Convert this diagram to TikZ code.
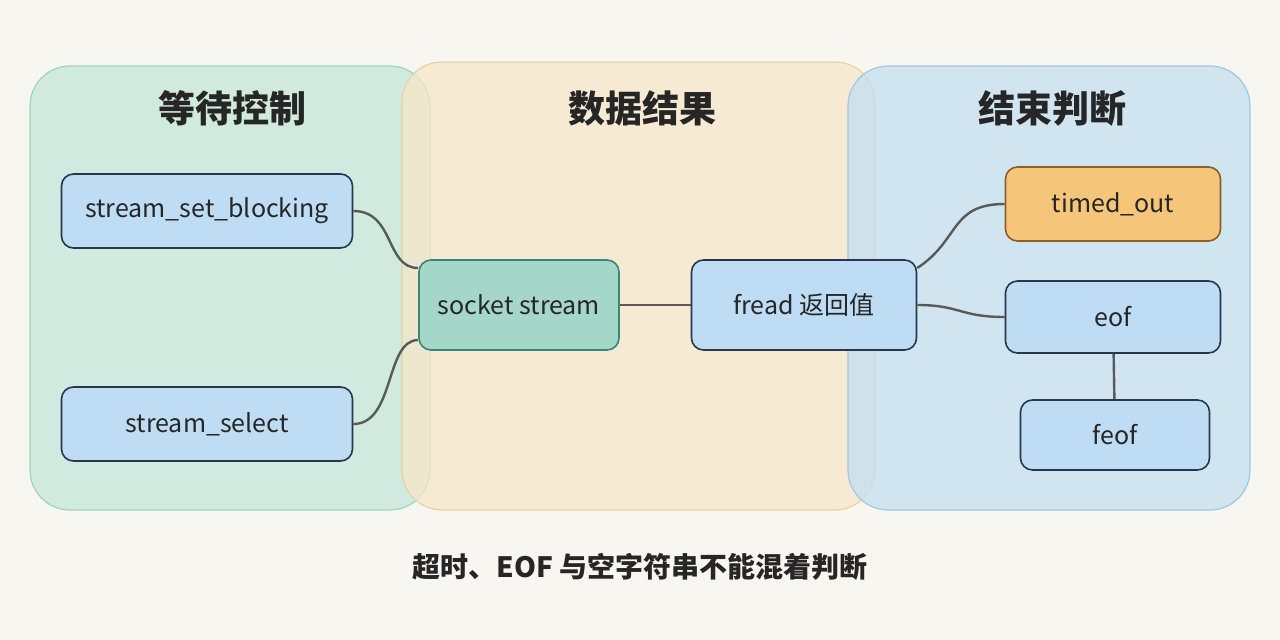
\documentclass[tikz,border=0pt]{standalone}
\usepackage{fontspec}
\setmainfont{Noto Sans CJK SC}
\begin{document}
\begin{tikzpicture}[x=1pt,y=-1pt,
 panel/.style={rounded corners=40pt,line width=1.2pt,fill opacity=0.75},
 box/.style={rounded corners=12pt,line width=1.6pt,font=\fontsize{25}{28}\selectfont,text=black!85},
 title/.style={font=\fontsize{37}{40}\selectfont\bfseries,text=black!85},
 conn/.style={line width=2.4pt,draw=black!65}]
\fill[fill={rgb,255:red,248;green,246;blue,240}] (0,0) rectangle (1280,640);
\definecolor{pA}{RGB}{196,230,218}\definecolor{pAd}{RGB}{160,210,195}
\definecolor{pB}{RGB}{246,230,200}\definecolor{pBd}{RGB}{228,210,170}
\definecolor{pC}{RGB}{196,224,242}\definecolor{pCd}{RGB}{160,200,225}
\definecolor{nb}{RGB}{190,220,243}\definecolor{nd}{RGB}{40,55,75}
\draw[panel,fill=pA,draw=pAd] (30,66) rectangle (430,510);
\draw[panel,fill=pB,draw=pBd] (402,62) rectangle (875,510);
\draw[panel,fill=pC,draw=pCd] (848,66) rectangle (1250,510);
\node[title] (t1) at (232,108) {等待控制};
\node[title] (t2) at (642,108) {数据结果};
\node[title] (t3) at (1052,108) {结束判断};
\tikzset{box/.append style={fill=nb,draw=nd}}
\node[box,minimum width=291,minimum height=74] (sb) at (207,211) {stream\_set\_blocking};
\node[box,minimum width=291,minimum height=74] (ss) at (207,424) {stream\_select};
\node[box,minimum width=200,minimum height=90,fill={rgb,255:red,165;green,215;blue,200},draw={rgb,255:red,55;green,135;blue,120}] (so) at (519,305) {socket stream};
\node[box,minimum width=225,minimum height=90] (fr) at (804,305) {fread 返回值};
\node[box,minimum width=215,minimum height=74,fill={rgb,255:red,245;green,198;blue,122},draw={rgb,255:red,140;green,95;blue,40}] (to) at (1113,204) {timed\_out};
\node[box,minimum width=215,minimum height=72] (eo) at (1113,317) {eof};
\node[box,minimum width=189,minimum height=70] (fe) at (1115,435) {feof};
\draw[conn] (sb.east) .. controls (395,211) and (385,268) .. (so.west|-0,268);
\draw[conn] (ss.east) .. controls (395,424) and (385,340) .. (so.west|-0,340);
\draw[conn] (so) -- (fr);
\draw[conn] (fr.east|-0,268) .. controls (960,240) and (950,204) .. (to.west);
\draw[conn] (fr.east|-0,305) .. controls (960,305) and (960,317) .. (eo.west);
\draw[conn] (eo) -- (fe);
\node[font=\fontsize{28}{30}\selectfont\bfseries,text=black!85] (cap) at (640,567) {超时、EOF 与空字符串不能混着判断};
\end{tikzpicture}
\end{document}
